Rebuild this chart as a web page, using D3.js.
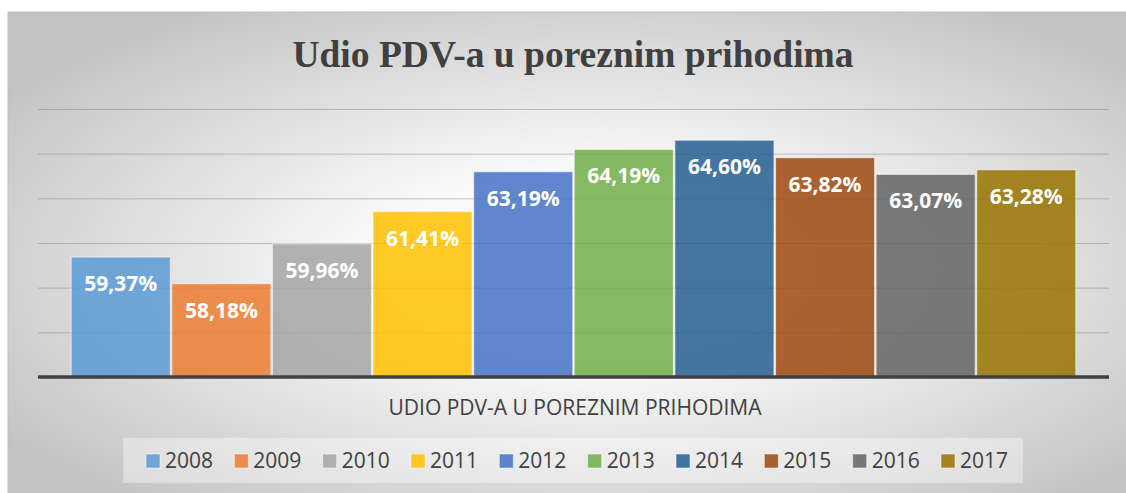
<!DOCTYPE html>
<html>
<head>
<meta charset="utf-8">
<style>
    html, body {
        margin: 0;
        padding: 0;
        background: #fff;
    }
    svg { display: block; }
    .title {
        font-family: "Liberation Serif", "Times New Roman", serif;
        font-weight: bold;
        fill: #404040;
    }
    .lbl {
        font-family: "Open Sans", sans-serif;
        font-weight: bold;
        fill: #fff;
    }
    .axis-title, .legend text {
        font-family: "Open Sans", sans-serif;
        fill: #404040;
    }
</style>
</head>
<body>
<svg width="1126" height="493">
    <defs>
        <radialGradient id="bg" cx="52%" cy="52%" r="64%">
            <stop offset="0%" stop-color="#ffffff"/>
            <stop offset="30%" stop-color="#fafafa"/>
            <stop offset="100%" stop-color="#c2c2c2"/>
        </radialGradient>
    </defs>
</svg>
<script src="https://d3js.org/d3.v7.min.js"></script>
<script>

    var years = ["2008", "2009", "2010", "2011", "2012", "2013", "2014", "2015", "2016", "2017"];
    var shares = [59.37, 58.18, 59.96, 61.41, 63.19, 64.19, 64.60, 63.82, 63.07, 63.28];
    var colors = ["#5B9BD5", "#ED7D31", "#A5A5A5", "#FFC000", "#4472C4",
                  "#70AD47", "#255E91", "#9E480E", "#636363", "#997300"];
    var yTicks = [56, 58, 60, 62, 64, 66];

    var svg = d3.select("svg");

    // chart area background
    svg.append("rect")
        .attr("x", 8).attr("y", 12)
        .attr("width", 1130).attr("height", 490)
        .attr("fill", "url(#bg)")
        .attr("stroke", "#bfbfbf")
        .attr("stroke-width", 1);

    svg.append("text")
        .attr("class", "title")
        .attr("x", 573).attr("y", 67)
        .attr("text-anchor", "middle")
        .style("font-size", "37.5px")
        .text("Udio PDV-a u poreznim prihodima");

    var x = d3.scaleBand()
        .domain(years)
        .range([38, 1109])
        .paddingInner(0.015)
        .paddingOuter(0.33);

    var y = d3.scaleLinear()
        .domain([54, 66])
        .range([377, 109]);

    // gridlines
    var grid = svg.append("g")
        .attr("transform", "translate(38,0)")
        .call(d3.axisLeft(y).tickValues(yTicks).tickSize(-1071).tickFormat(""));
    grid.select(".domain").remove();
    grid.selectAll("line")
        .attr("stroke", "#7f7f7f")
        .attr("stroke-opacity", 0.45);

    var data = years.map(function(d, i) { return {year: d, v: shares[i], c: colors[i]}; });

    svg.append("g").selectAll(".bar")
        .data(data)
        .enter().append("rect")
        .attr("class", "bar")
        .attr("x", function(d) { return x(d.year); })
        .attr("y", function(d) { return y(d.v); })
        .attr("width", x.bandwidth())
        .attr("height", function(d) { return y(54) - y(d.v); })
        .attr("fill", function(d) { return d.c; })
        .attr("fill-opacity", 0.85)
        .attr("stroke", "#fff")
        .attr("stroke-opacity", 0.5)
        .attr("stroke-width", 1.2);

    svg.append("g").selectAll(".lbl")
        .data(data)
        .enter().append("text")
        .attr("class", "lbl")
        .attr("x", function(d) { return x(d.year) + x.bandwidth() / 2; })
        .attr("y", function(d) { return y(d.v) + 34; })
        .attr("text-anchor", "middle")
        .style("font-size", "21px")
        .text(function(d) { return d.v.toFixed(2).replace(".", ",") + "%"; });

    // category axis line
    var xAxis = svg.append("g")
        .attr("transform", "translate(0," + y(54) + ")")
        .call(d3.axisBottom(x).tickSize(0).tickFormat(""));
    xAxis.select(".domain")
        .attr("d", "M38,0H1109")
        .attr("stroke", "#404040")
        .attr("stroke-width", 3.5);

    svg.append("text")
        .attr("class", "axis-title")
        .attr("x", 575).attr("y", 415)
        .attr("text-anchor", "middle")
        .style("font-size", "21px")
        .text("UDIO PDV-A U POREZNIM PRIHODIMA");

    // legend
    var legend = svg.append("g").attr("class", "legend");
    legend.append("rect")
        .attr("x", 123).attr("y", 438)
        .attr("width", 900).attr("height", 45)
        .attr("fill", "#fff")
        .attr("fill-opacity", 0.38);

    var lx = d3.scalePoint().domain(years).range([146, 941]);

    var item = legend.selectAll(".item")
        .data(data)
        .enter().append("g")
        .attr("class", "item")
        .attr("transform", function(d) { return "translate(" + lx(d.year) + ",0)"; });
    item.append("rect")
        .attr("x", 0).attr("y", 454)
        .attr("width", 14).attr("height", 14)
        .attr("fill", function(d) { return d.c; })
        .attr("fill-opacity", 0.85)
        .attr("stroke", "#fff")
        .attr("stroke-opacity", 0.5);
    item.append("text")
        .attr("x", 19).attr("y", 468)
        .style("font-size", "21px")
        .text(function(d) { return d.year; });

</script>
</body>
</html>
